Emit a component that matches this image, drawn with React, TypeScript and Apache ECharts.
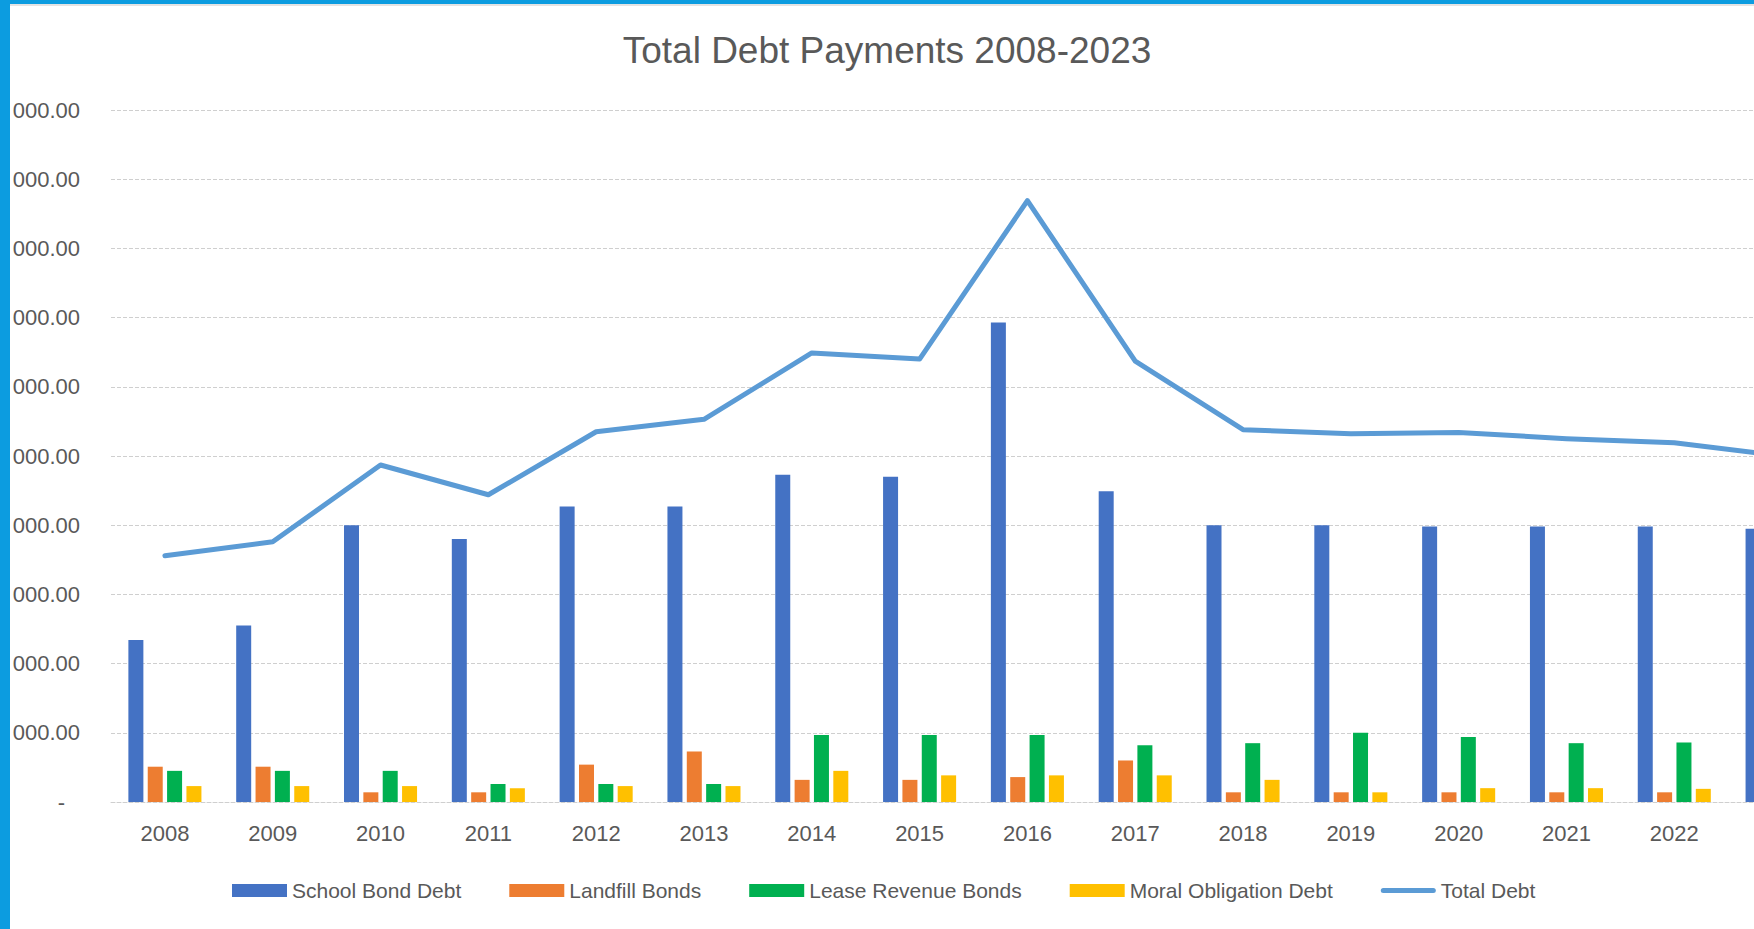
import React, { useEffect, useRef } from "react";
import * as echarts from "echarts";

const years = ["2008", "2009", "2010", "2011", "2012", "2013", "2014", "2015", "2016", "2017", "2018", "2019", "2020", "2021", "2022", "2023"];
const schoolBondDebt = [2.34, 2.55, 4.0, 3.8, 4.27, 4.27, 4.73, 4.7, 6.93, 4.49, 4.0, 4.0, 3.98, 3.98, 3.98, 3.95];
const landfillBonds = [0.51, 0.51, 0.14, 0.14, 0.54, 0.73, 0.32, 0.32, 0.36, 0.6, 0.14, 0.14, 0.14, 0.14, 0.14, 0.14];
const leaseRevenueBonds = [0.45, 0.45, 0.45, 0.26, 0.26, 0.26, 0.97, 0.97, 0.97, 0.82, 0.85, 1.0, 0.94, 0.85, 0.86, 0.72];
const moralObligationDebt = [0.23, 0.23, 0.23, 0.2, 0.23, 0.23, 0.45, 0.385, 0.385, 0.385, 0.32, 0.14, 0.2, 0.2, 0.19, 0.19];
const totalDebt = [3.56, 3.76, 4.87, 4.44, 5.35, 5.53, 6.49, 6.4, 8.69, 6.37, 5.38, 5.32, 5.34, 5.25, 5.19, 5.0];
const yTickLabels = ["-", "000.00", "000.00", "000.00", "000.00", "000.00", "000.00", "000.00", "000.00", "000.00", "000.00"];

const FONT = "Liberation Sans";
const TEXT = "#595959";
const GRID = "#cfcfcf";

export default function App() {
  const ref = useRef<HTMLDivElement>(null);
  useEffect(() => {
    if (!ref.current) return;
    const chart = echarts.init(ref.current, null, { renderer: "svg" });
    const barBase = {
      type: "bar",
      barWidth: 15,
      barGap: "29%",
    };
    chart.setOption({
      animation: false,
      backgroundColor: "#ffffff",
      title: {
        text: "Total Debt Payments 2008-2023",
        left: 882,
        top: 27,
        textAlign: "center",
        textStyle: { fontFamily: FONT, fontSize: 37, fontWeight: "normal", color: TEXT },
      },
      legend: {
        left: 227,
        top: 875,
        itemWidth: 55,
        itemHeight: 13,
        itemGap: 48,
        symbolKeepAspect: true,
        textStyle: { fontFamily: FONT, fontSize: 21, color: TEXT },
        data: [
          { name: "School Bond Debt", icon: "rect" },
          { name: "Landfill Bonds", icon: "rect" },
          { name: "Lease Revenue Bonds", icon: "rect" },
          { name: "Moral Obligation Debt", icon: "rect" },
          {
            name: "Total Debt",
            icon: "path://M2.5,0 L52.5,0 A2.5,2.5 0 0 1 52.5,5 L2.5,5 A2.5,2.5 0 0 1 2.5,0 Z",
            itemStyle: { color: "#5B9BD5" },
          },
        ],
      },
      grid: { left: 111, right: 64, top: 110, bottom: 127 },
      xAxis: {
        type: "category",
        data: years,
        axisLine: { show: true, lineStyle: { color: GRID, width: 1, type: [4, 2] } },
        axisTick: { show: false },
        axisLabel: {
          fontFamily: FONT,
          fontSize: 22,
          color: TEXT,
          margin: 20,
          interval: (index: number) => index < years.length - 1,
        },
      },
      yAxis: {
        type: "value",
        min: 0,
        max: 10,
        interval: 1,
        axisLine: { show: false },
        axisTick: { show: false },
        splitLine: { lineStyle: { color: GRID, width: 1, type: [4, 2] } },
        axisLabel: {
          fontFamily: FONT,
          fontSize: 22,
          color: TEXT,
          margin: 31,
          formatter: (v: number) => {
            const i = Math.round(v);
            const t = yTickLabels[i];
            return i === 0 ? "{z|" + t + "}" : t;
          },
          rich: { z: { fontFamily: FONT, fontSize: 22, color: TEXT, padding: [0, 15, 0, 0] } },
        },
      },
      series: [
        { ...barBase, name: "School Bond Debt", data: schoolBondDebt, itemStyle: { color: "#4472C4" } },
        { ...barBase, name: "Landfill Bonds", data: landfillBonds, itemStyle: { color: "#ED7D31" } },
        { ...barBase, name: "Lease Revenue Bonds", data: leaseRevenueBonds, itemStyle: { color: "#00B050" } },
        { ...barBase, name: "Moral Obligation Debt", data: moralObligationDebt, itemStyle: { color: "#FFC000" } },
        {
          type: "line",
          name: "Total Debt",
          data: totalDebt,
          symbol: "none",
          showSymbol: false,
          z: 5,
          lineStyle: { color: "#5B9BD5", width: 5, cap: "round", join: "round" },
          itemStyle: { color: "#5B9BD5" },
        },
      ],
    });
    return () => chart.dispose();
  }, []);

  return (
    <div style={{ position: "fixed", left: 0, top: 0, width: 1754, height: 929, overflow: "hidden", background: "#fff" }}>
      <div ref={ref} style={{ position: "absolute", left: 0, top: 0, width: 1900, height: 929 }} />
      <div style={{ position: "absolute", left: 0, top: 0, width: 1754, height: 4, background: "#0c9ce0" }} />
      <div style={{ position: "absolute", left: 0, top: 4, width: 1754, height: 2, background: "#e3e3e3" }} />
      <div style={{ position: "absolute", left: 0, top: 0, width: 10, height: 929, background: "#0c9ce0" }} />
    </div>
  );
}
